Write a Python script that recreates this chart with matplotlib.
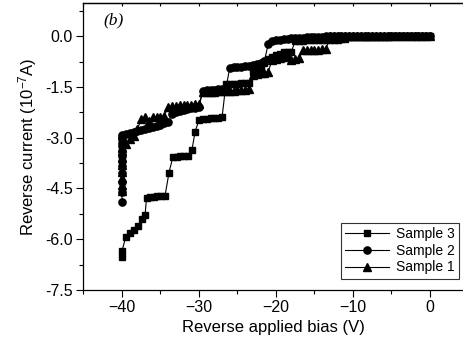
import matplotlib
matplotlib.use("Agg")
import matplotlib.pyplot as plt
from matplotlib.ticker import MultipleLocator

# ---------------- data ----------------
s3_x = [0.0, -0.5, -1.0, -1.5, -2.0, -2.5, -3.0, -3.5, -4.0, -4.5, -5.0, -5.5, -6.0, -6.5, -7.0, -7.5,
        -8.0, -8.5, -9.0, -9.5, -10.0, -10.5,
        -11.0, -11.5, -12.0, -12.5, -13.0, -13.5, -14.0, -14.5, -15.0, -15.5, -16.0, -16.5, -17.0, -17.5,
        -18.0, -18.5, -19.0, -19.5, -20.0, -20.5, -21.0, -21.5, -22.0, -22.5, -23.0,
        -23.5, -24.0, -24.5, -25.0, -25.5, -26.0, -26.5,
        -27.0, -27.5, -28.0, -28.5, -29.0, -29.5, -30.0,
        -30.5, -30.9, -31.4, -31.9, -32.4, -32.9, -33.4,
        -33.9, -34.4, -34.9, -35.4, -35.9, -36.4, -36.8,
        -37.0, -37.4, -37.9, -38.4, -39.0, -39.5, -40.0, -40.0]
s3_y = [0.00, 0.00, 0.00, 0.00, 0.00, 0.00, 0.00, 0.00, 0.00, 0.00, 0.00, -0.01, -0.01, -0.01, -0.01, -0.01,
        -0.02, -0.02, -0.02, -0.02, -0.03, -0.03,
        -0.08, -0.09, -0.10, -0.10, -0.10, -0.11, -0.11, -0.11, -0.12, -0.12, -0.12, -0.13, -0.13, -0.14,
        -0.46, -0.47, -0.48, -0.52, -0.57, -0.62, -0.68, -0.80, -0.90, -0.98, -1.05,
        -1.38, -1.39, -1.39, -1.40, -1.40, -1.41, -1.41,
        -2.40, -2.41, -2.42, -2.43, -2.44, -2.46, -2.48,
        -2.82, -3.35, -3.53, -3.54, -3.55, -3.56, -3.58,
        -4.04, -4.71, -4.72, -4.73, -4.75, -4.76, -4.77,
        -5.28, -5.39, -5.62, -5.73, -5.83, -5.93, -6.35, -6.52]

s2_x = [0.0, -0.5, -1.0, -1.5, -2.0, -2.5, -3.0, -3.5, -4.0, -4.5, -5.0, -5.5, -6.0, -6.5, -7.0, -7.5,
        -8.0, -8.5, -9.0, -9.5, -10.0, -10.5, -11.0, -11.5, -12.0, -12.5, -13.0,
        -13.5, -14.0, -14.5, -15.0, -15.5, -16.0, -16.5, -17.0, -17.5, -18.0, -18.5, -19.0, -19.5,
        -20.0, -20.5, -21.0,
        -21.5, -22.0, -22.5, -23.0, -23.5, -24.0, -24.5, -25.0, -25.5, -26.0,
        -26.5, -27.0, -27.5, -28.0, -28.5, -29.0, -29.5,
        -30.0, -30.5, -31.0, -31.5, -32.0, -32.5, -33.0, -33.5,
        -34.0, -34.5, -35.0, -35.5, -36.0, -36.5, -37.0, -37.5, -38.0, -38.5, -39.0, -39.5,
        -40.0, -40.0, -40.0, -40.0, -40.0, -40.0, -40.0, -40.0, -40.0, -40.0, -40.0, -40.0, -40.0]
s2_y = [0.00, 0.00, 0.00, 0.00, 0.00, 0.00, 0.00, 0.00, 0.00, 0.00, 0.00, 0.00, 0.00, 0.00, 0.00, 0.00,
        0.00, 0.00, 0.00, 0.00, 0.00, 0.00, 0.00, 0.00, 0.00, 0.00, 0.00,
        0.00, -0.01, -0.01, -0.02, -0.02, -0.03, -0.04, -0.05, -0.05, -0.06, -0.07, -0.08, -0.10,
        -0.12, -0.15, -0.22,
        -0.74, -0.80, -0.83, -0.86, -0.88, -0.89, -0.90, -0.91, -0.92, -0.93,
        -1.55, -1.56, -1.57, -1.58, -1.59, -1.60, -1.61,
        -2.09, -2.11, -2.13, -2.16, -2.19, -2.22, -2.25, -2.29,
        -2.55, -2.58, -2.61, -2.64, -2.68, -2.71, -2.74, -2.77, -2.80, -2.84, -2.87, -2.90,
        -2.93, -2.98, -3.05, -3.15, -3.25, -3.40, -3.55, -3.70, -3.85, -4.05, -4.30, -4.60, -4.90]

s1_x = [0.0, -0.5, -1.0, -1.5, -2.0, -2.5, -3.0, -3.5, -4.0, -4.5, -5.0, -5.5, -6.0, -6.5, -7.0, -7.5,
        -8.0, -8.5, -9.0, -9.5, -10.0, -10.5, -11.0, -11.5, -12.0, -12.5, -13.0,
        -13.5, -14.0, -14.5, -15.0, -15.5, -16.0, -16.5,
        -17.0, -17.5, -18.0, -18.5, -19.0, -19.5, -20.0, -20.5,
        -21.0, -21.5, -22.0, -22.5, -23.0,
        -23.5, -24.0, -24.5, -25.0, -25.5, -26.0, -26.5, -27.0, -27.5, -28.0, -28.5, -29.0, -29.5,
        -30.0, -30.5, -31.0, -31.5, -32.0, -32.5, -33.0, -33.5, -34.0,
        -34.5, -35.0, -35.5, -36.0, -36.5, -37.0, -37.5,
        -38.0, -38.5, -39.0, -39.5,
        -40.0, -40.0, -40.0, -40.0, -40.0, -40.0, -40.0, -40.0]
s1_y = [0.00, 0.00, 0.00, 0.00, 0.00, 0.00, 0.00, 0.00, 0.00, 0.00, 0.00, 0.00, 0.00, 0.00, 0.00, 0.00,
        0.00, 0.00, 0.00, 0.00, 0.00, 0.00, 0.00, 0.00, 0.00, 0.00, 0.00,
        -0.38, -0.39, -0.40, -0.41, -0.41, -0.42, -0.42,
        -0.65, -0.68, -0.70, -0.60, -0.62, -0.64, -0.66, -0.70,
        -1.05, -1.08, -1.10, -1.12, -1.15,
        -1.55, -1.58, -1.59, -1.60, -1.61, -1.62, -1.62, -1.63, -1.63, -1.64, -1.64, -1.65, -1.66,
        -2.00, -2.01, -2.02, -2.02, -2.03, -2.04, -2.05, -2.06, -2.08,
        -2.35, -2.38, -2.40, -2.38, -2.52, -2.40, -2.45,
        -2.75, -2.95, -3.05, -3.18,
        -3.30, -3.40, -3.60, -3.80, -4.00, -4.20, -4.40, -4.57]

series = [("Sample 3", s3_x, s3_y, "s", 4.8),
          ("Sample 2", s2_x, s2_y, "o", 5.2),
          ("Sample 1", s1_x, s1_y, "^", 6.0)]

x_ticks = [-40, -30, -20, -10, 0]
y_ticks = [-7.5, -6.0, -4.5, -3.0, -1.5, 0.0]

# ---------------- figure ----------------
plt.rcParams['font.family'] = ['Liberation Sans', 'DejaVu Sans']
plt.rcParams['mathtext.fontset'] = 'custom'
plt.rcParams['mathtext.rm'] = 'Liberation Sans'
plt.rcParams['mathtext.it'] = 'Liberation Sans:italic'
fig = plt.figure(figsize=(4.64, 3.44), dpi=100)
ax = fig.add_axes([83 / 464, 1 - 290 / 344, 1 - 83 / 464 - 0.002, (290 - 3) / 344])

for label, xs, ys, mk, ms in series:
    ax.plot(xs, ys, color='black', lw=0.8, marker=mk, markersize=ms,
            markerfacecolor='black', markeredgecolor='black', label=label)

ax.set_xlim(-45.06, 4.3)
ax.set_ylim(-7.5, 0.98)
ax.set_xticks(x_ticks)
ax.set_yticks(y_ticks)
ax.set_yticklabels([f"{v:.1f}" for v in y_ticks])
ax.xaxis.set_minor_locator(MultipleLocator(5))
ax.yaxis.set_minor_locator(MultipleLocator(0.75))
ax.tick_params(which='both', direction='out', labelsize=11.5, width=0.8, pad=2.5)
ax.tick_params(which='major', length=5)
ax.tick_params(which='minor', length=3)
ax.spines['right'].set_visible(False)
for s in ['left', 'bottom', 'top']:
    ax.spines[s].set_linewidth(0.9)

top = ax.secondary_xaxis('top')
top.set_xticks([-45, -40, -35, -30, -25, -20, -15, -10, -5, 0])
top.tick_params(direction='in', length=2, labeltop=False, width=0.8)
top.spines['top'].set_linewidth(0.9)

ax.set_xlabel("Reverse applied bias (V)", fontsize=12, labelpad=3)
ax.set_ylabel("Reverse current (10$^{\\mathregular{-7}}$A)", fontsize=12, labelpad=4)

ax.text(0.053, 0.94, "(b)", transform=ax.transAxes, fontsize=12.5,
        family='Liberation Serif', style='italic', va='center', ha='left')

leg = ax.legend(loc='lower right', bbox_to_anchor=(0.997, 0.03), fontsize=10,
                frameon=True, fancybox=False, handlelength=3.2, borderpad=0.3,
                labelspacing=0.2, handletextpad=0.5, borderaxespad=0.2)
leg.get_frame().set_edgecolor('black')
leg.get_frame().set_linewidth(0.8)

fig.savefig("out.png", dpi=100)
